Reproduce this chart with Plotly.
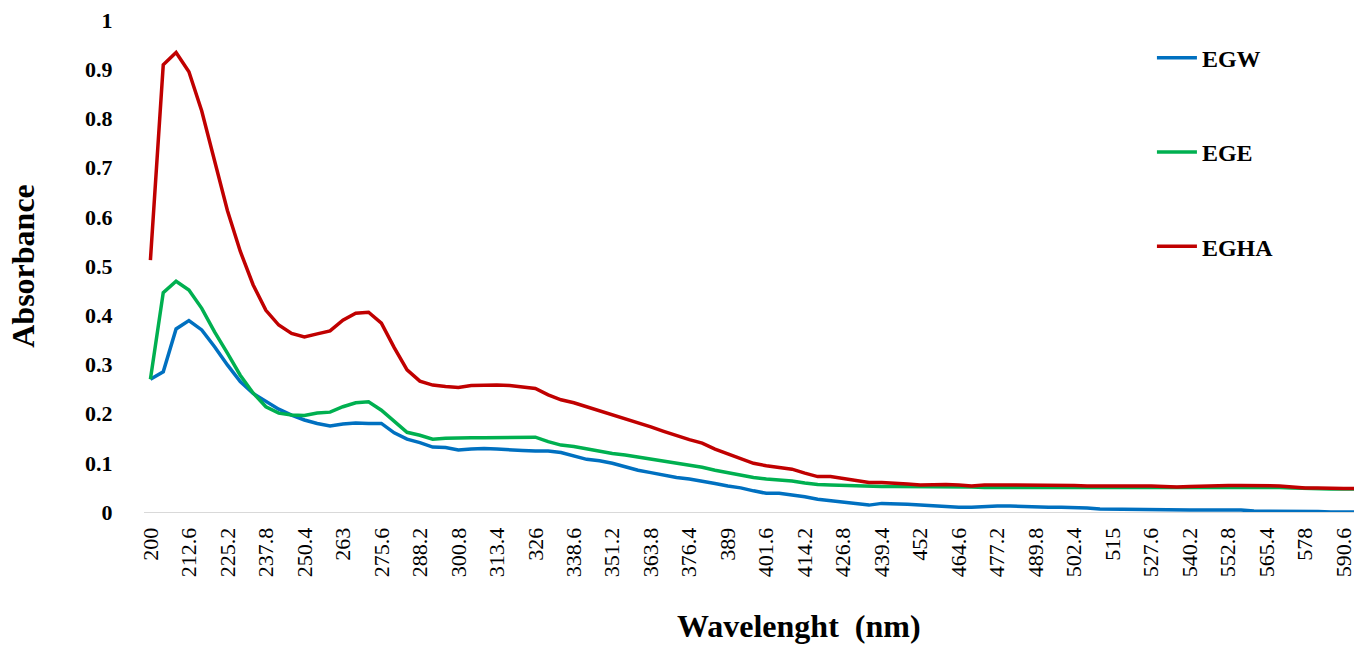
import plotly.graph_objects as go

wavelengths = ["200", "204.2", "208.4", "212.6", "216.8", "221", "225.2", "229.4", "233.6", "237.8",
               "242", "246.2", "250.4", "254.6", "258.8", "263", "267.2", "271.4", "275.6", "279.8",
               "284", "288.2", "292.4", "296.6", "300.8", "305", "309.2", "313.4", "317.6", "321.8",
               "326", "330.2", "334.4", "338.6", "342.8", "347", "351.2", "355.4", "359.6", "363.8",
               "368", "372.2", "376.4", "380.6", "384.8", "389", "393.2", "397.4", "401.6", "405.8",
               "410", "414.2", "418.4", "422.6", "426.8", "431", "435.2", "439.4", "443.6", "447.8",
               "452", "456.2", "460.4", "464.6", "468.8", "473", "477.2", "481.4", "485.6", "489.8",
               "494", "498.2", "502.4", "506.6", "510.8", "515", "519.2", "523.4", "527.6", "531.8",
               "536", "540.2", "544.4", "548.6", "552.8", "557", "561.2", "565.4", "569.6", "573.8",
               "578", "582.2", "586.4", "590.6", "594.8", "599"]

tick_labels = ["200", "212.6", "225.2", "237.8", "250.4", "263", "275.6", "288.2", "300.8", "313.4",
               "326", "338.6", "351.2", "363.8", "376.4", "389", "401.6", "414.2", "426.8", "439.4",
               "452", "464.6", "477.2", "489.8", "502.4", "515", "527.6", "540.2", "552.8", "565.4",
               "578", "590.6"]

egw = [0.27, 0.285, 0.372, 0.389, 0.37, 0.336, 0.299, 0.265, 0.241, 0.224,
       0.209, 0.197, 0.187, 0.18, 0.175, 0.179, 0.181, 0.18, 0.18, 0.161,
       0.148, 0.141, 0.132, 0.131, 0.126, 0.128, 0.129, 0.128, 0.126, 0.125,
       0.124, 0.124, 0.121, 0.114, 0.107, 0.104, 0.099, 0.092, 0.085, 0.08,
       0.075, 0.07, 0.067, 0.063, 0.058, 0.053, 0.049, 0.043, 0.038, 0.038,
       0.035, 0.031, 0.026, 0.023, 0.019, 0.016, 0.014, 0.0175, 0.017, 0.0155,
       0.014, 0.012, 0.011, 0.0095, 0.0095, 0.011, 0.012, 0.012, 0.011, 0.0095,
       0.0095, 0.0095, 0.009, 0.008, 0.006, 0.0055, 0.0055, 0.005, 0.004, 0.004,
       0.004, 0.004, 0.004, 0.004, 0.004, 0.004, 0.002, 0.002, 0.002, 0.002,
       0.001, 0.001, 0.0, 0.0, 0.0, 0.0]

ege = [0.27, 0.446, 0.469, 0.451, 0.414, 0.366, 0.323, 0.278, 0.242, 0.214,
       0.201, 0.197, 0.196, 0.201, 0.203, 0.214, 0.222, 0.224, 0.207, 0.185,
       0.162, 0.156, 0.148, 0.15, 0.151, 0.151, 0.151, 0.151, 0.151, 0.151,
       0.152, 0.143, 0.136, 0.133, 0.128, 0.124, 0.119, 0.116, 0.112, 0.107,
       0.103, 0.099, 0.095, 0.091, 0.085, 0.08, 0.075, 0.07, 0.067, 0.065,
       0.063, 0.059, 0.056, 0.055, 0.054, 0.053, 0.052, 0.052, 0.052, 0.052,
       0.051, 0.051, 0.051, 0.051, 0.051, 0.05, 0.05, 0.05, 0.051, 0.051,
       0.051, 0.051, 0.051, 0.051, 0.051, 0.051, 0.051, 0.051, 0.051, 0.051,
       0.051, 0.051, 0.051, 0.051, 0.051, 0.051, 0.051, 0.051, 0.05, 0.049,
       0.048, 0.048, 0.047, 0.047, 0.047, 0.047]

egha = [0.512, 0.909, 0.934, 0.895, 0.815, 0.717, 0.613, 0.53, 0.462, 0.41,
        0.38, 0.363, 0.356, 0.362, 0.368, 0.39, 0.404, 0.406, 0.384, 0.334,
        0.289, 0.266, 0.258, 0.255, 0.253, 0.257, 0.258, 0.258, 0.257, 0.254,
        0.251, 0.238, 0.228, 0.222, 0.214, 0.205, 0.197, 0.189, 0.181, 0.173,
        0.164, 0.155, 0.147, 0.14, 0.128, 0.118, 0.108, 0.099, 0.094, 0.091,
        0.087, 0.079, 0.072, 0.072, 0.068, 0.064, 0.06, 0.06, 0.059, 0.057,
        0.055, 0.056, 0.056, 0.055, 0.053, 0.055, 0.055, 0.055, 0.055, 0.055,
        0.055, 0.055, 0.054, 0.053, 0.053, 0.053, 0.054, 0.054, 0.053, 0.052,
        0.051, 0.052, 0.053, 0.054, 0.054, 0.054, 0.054, 0.054, 0.053, 0.051,
        0.049, 0.049, 0.048, 0.048, 0.048, 0.048]

series = [("EGW", egw, "#0070C0"), ("EGE", ege, "#00B050"), ("EGHA", egha, "#C00000")]

FONT = "Liberation Serif"

fig = go.Figure()
for name, vals, color in series:
    fig.add_trace(go.Scatter(x=wavelengths, y=vals, mode="lines", name=name,
                             legendgroup=name,
                             line=dict(color=color, width=3.5)))

fig.update_layout(
    width=1356, height=648,
    margin=dict(l=144, r=0, t=20, b=136),
    paper_bgcolor="white", plot_bgcolor="white",
    font=dict(family=FONT, color="black"),
    showlegend=True,
    legend=dict(x=0.833, y=0.968, xanchor="left", yanchor="top",
                font=dict(family=FONT, size=24, color="black", weight="bold"),
                tracegroupgap=60, bgcolor="rgba(0,0,0,0)",
                itemwidth=40),
    xaxis=dict(type="category", range=[-0.5, 93.8],
               tickmode="array", tickvals=tick_labels, ticktext=tick_labels,
               tickangle=-90, tickfont=dict(family=FONT, size=22, color="black"),
               showgrid=False, zeroline=False,
               showline=True, linecolor="#d9d9d9", linewidth=1,
               ticks="outside", ticklen=6, tickcolor="rgba(0,0,0,0)"),
    yaxis=dict(range=[0, 1], tickmode="array",
               tickvals=[0, 0.1, 0.2, 0.3, 0.4, 0.5, 0.6, 0.7, 0.8, 0.9, 1],
               ticktext=["0", "0.1", "0.2", "0.3", "0.4", "0.5", "0.6", "0.7", "0.8", "0.9", "1"],
               tickfont=dict(family=FONT, size=22, color="black", weight="bold"),
               showgrid=False, zeroline=False, showline=False,
               ticks="outside", ticklen=26, tickcolor="rgba(0,0,0,0)",
               title=dict(text="Absorbance",
                          font=dict(family=FONT, size=32, color="black", weight="bold"),
                          standoff=40)),
    annotations=[dict(text="Wavelenght  (nm)", xref="paper", yref="paper",
                      x=0.541, y=-0.231, xanchor="center", yanchor="middle",
                      showarrow=False,
                      font=dict(family=FONT, size=32, color="black", weight="bold"))],
)

fig.write_html("out.html")
